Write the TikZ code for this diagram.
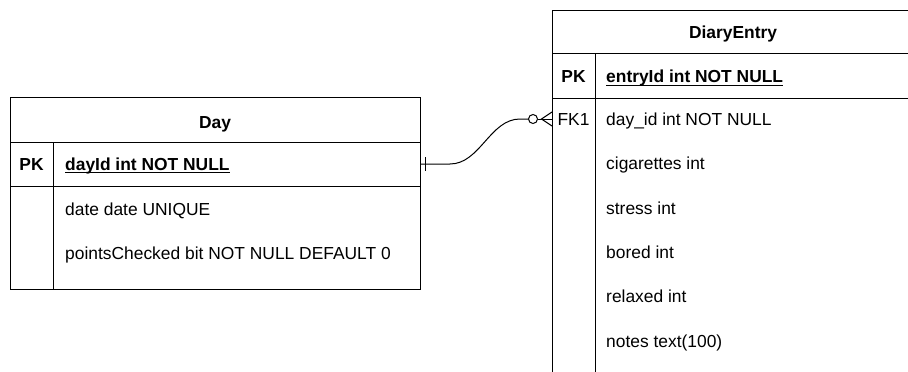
\documentclass[tikz,border=0pt]{standalone}
\usepackage{fontspec}
\setmainfont{Liberation Sans}
\begin{document}
\begin{tikzpicture}[x=1pt,y=-1pt,
  tline/.style={draw=black,line width=1pt},
  txt/.style={font=\fontsize{17.4}{20}\selectfont,inner sep=0pt,text=black},
  fld/.style={txt,anchor=base west},
  keyt/.style={txt,anchor=base},
  ttl/.style={txt,anchor=base,font=\fontsize{17.4}{20}\selectfont\bfseries},
  conn/.style={draw=black,line width=1pt}]
\useasboundingbox (0,0) rectangle (908,372);
\clip (0,0) rectangle (908,372);
% ---- Day table ----
\draw[tline] (10,97) rectangle (420,289);
\draw[tline] (10,142) -- (420,142);
\draw[tline] (10,186) -- (420,186);
\draw[tline] (53,142) -- (53,289);
\node[ttl] (daytitle) at (215,128.2) {Day};
\node[ttl] (daypk) at (31.5,170.2) {PK};
\node[fld,font=\fontsize{17.4}{20}\selectfont\bfseries] (dayid) at (65,170.2) {dayId int NOT NULL};
\draw[line width=0.9pt] ([yshift=-2.5pt]dayid.base west) -- ([yshift=-2.5pt]dayid.base east);
\node[fld] (daydate) at (65,215.2) {date date UNIQUE};
\node[fld] (daypts) at (65,259.2) {pointsChecked bit NOT NULL DEFAULT 0};
% ---- DiaryEntry table ----
\draw[tline] (914,10) -- (552,10) -- (552,380);
\draw[tline] (552,53.5) -- (914,53.5);
\draw[tline] (552,98) -- (914,98);
\draw[tline] (595,53.5) -- (595,380);
\node[ttl] (detitle) at (733,38.5) {DiaryEntry};
\node[ttl] (depk) at (573.5,82.5) {PK};
\node[fld,font=\fontsize{17.4}{20}\selectfont\bfseries] (entryid) at (606,82.5) {entryId int NOT NULL};
\draw[line width=0.9pt] ([yshift=-2.5pt]entryid.base west) -- ([yshift=-2.5pt]entryid.base east);
\node[keyt] (defk) at (573.5,125.2) {FK1};
\node[fld] (dayidf) at (606,125.2) {day\_id int NOT NULL};
\node[fld] (cig) at (606,169.2) {cigarettes int};
\node[fld] (stress) at (606,214.2) {stress int};
\node[fld] (bored) at (606,258.2) {bored int};
\node[fld] (relaxed) at (606,302.7) {relaxed int};
\node[fld] (notes) at (606,347.2) {notes text(100)};
% ---- connector ----
\coordinate (dayend) at (420,164);
\coordinate (fkend) at (552,119);
\coordinate (ring) at (533,119);
\draw[conn] (dayend) -- (450,164) .. controls (480,164) and (490,119) .. (520,119) -- ([xshift=-4.5pt]ring);
\draw[conn] (425,157) -- (425,171);
\draw[conn] (ring) circle (4.5);
\draw[conn] ([xshift=4.5pt]ring) -- (fkend);
\draw[conn] (fkend) ++(0,-7) -- (541.5,119) -- (552,126);
\end{tikzpicture}
\end{document}
